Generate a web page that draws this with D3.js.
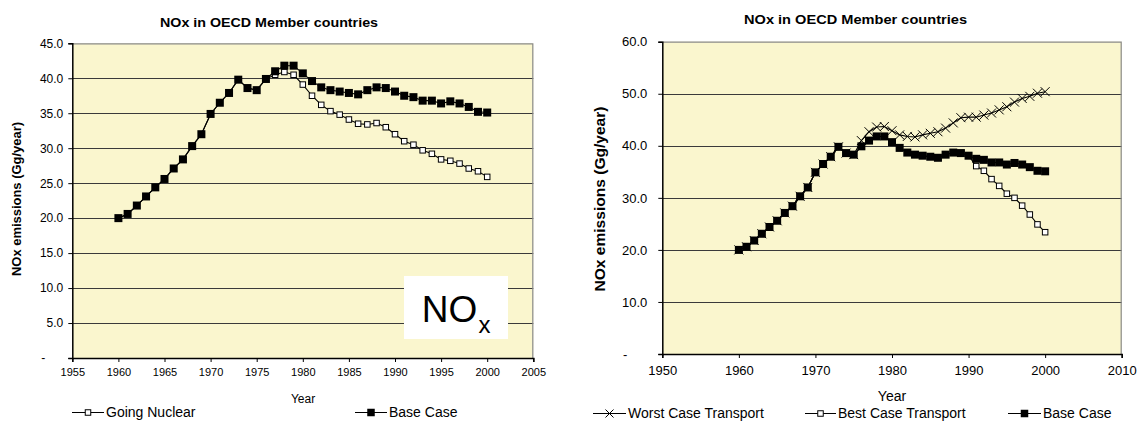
<!DOCTYPE html>
<html><head><meta charset="utf-8">
<script src="https://cdn.jsdelivr.net/npm/d3@7"></script>
<style>
html,body{margin:0;padding:0;background:#fff;}
svg text{font-family:"Liberation Sans",Arial,sans-serif;fill:#000;}
</style></head>
<body><svg id="c" width="1138" height="421"></svg>
<script>
// ---------- DATA ----------
const years = [1960,1961,1962,1963,1964,1965,1966,1967,1968,1969,1970,1971,1972,1973,1974,1975,1976,1977,1978,1979,1980,1981,1982,1983,1984,1985,1986,1987,1988,1989,1990,1991,1992,1993,1994,1995,1996,1997,1998,1999,2000];
const baseCase = [20.0,20.6,21.8,23.1,24.4,25.6,27.1,28.4,30.3,32.0,34.9,36.5,37.9,39.8,38.6,38.3,39.9,41.0,41.8,41.8,40.7,39.6,38.7,38.3,38.1,37.9,37.7,38.3,38.7,38.6,38.1,37.5,37.3,36.8,36.8,36.4,36.7,36.4,35.9,35.2,35.1];
const goingNuclear = [20.0,20.6,21.8,23.1,24.4,25.6,27.1,28.4,30.3,32.0,34.9,36.5,37.9,39.8,38.6,38.3,39.9,40.5,40.9,40.5,39.1,37.5,36.2,35.3,34.8,34.1,33.5,33.4,33.6,33.0,32.0,31.0,30.5,29.7,29.2,28.4,28.2,27.8,27.1,26.7,25.9];
const worstCaseTransport = [20.0,20.6,21.8,23.1,24.4,25.6,27.1,28.4,30.3,32.0,34.9,36.5,37.9,39.8,38.6,38.3,41.0,42.7,43.6,43.7,42.9,42.1,41.8,41.7,42.1,42.4,42.7,43.4,44.4,45.4,45.5,45.5,45.9,46.3,46.9,47.5,48.4,49.1,49.5,50.1,50.4];
const bestCaseTransport = [20.0,20.6,21.8,23.1,24.4,25.6,27.1,28.4,30.3,32.0,34.9,36.5,37.9,39.8,38.6,38.3,39.9,41.0,41.8,41.8,40.7,39.6,38.7,38.3,38.1,37.9,37.7,38.3,38.7,38.6,38.1,36.1,35.2,33.6,32.3,30.8,30.0,28.5,26.8,24.9,23.4];
const leftXTicks = [1955,1960,1965,1970,1975,1980,1985,1990,1995,2000,2005];
const leftYTicks = [0,5,10,15,20,25,30,35,40,45];
const rightXTicks = [1950,1960,1970,1980,1990,2000,2010];
const rightYTicks = [0,10,20,30,40,50,60];
const chartTitle = "NOx in OECD Member countries";
const yTitle = "NOx emissions (Gg/year)";
const xTitle = "Year";

// ---------- DRAW ----------
const svg = d3.select("#c");
const BG = "#FAF6CE";
const yFmt = v => v === 0 ? "-" : d3.format(".1f")(v);

function drawMarker(g, type, x, y, s) {
  if (type === "filled") {
    g.append("rect").attr("x", x - s/2).attr("y", y - s/2).attr("width", s).attr("height", s).attr("fill", "#000");
  } else if (type === "open") {
    g.append("rect").attr("x", x - s/2).attr("y", y - s/2).attr("width", s).attr("height", s)
      .attr("fill", "#fff").attr("stroke", "#000").attr("stroke-width", 1);
  } else if (type === "cross") {
    const h = s/2;
    g.append("path").attr("d", `M${x-h},${y-h}L${x+h},${y+h}M${x-h},${y+h}L${x+h},${y-h}`)
      .attr("stroke", "#000").attr("stroke-width", 1).attr("fill", "none");
  }
}

function chart(cfg) {
  const g = svg.append("g");
  const x = d3.scaleLinear().domain(cfg.xDomain).range([cfg.left, cfg.right]);
  const y = d3.scaleLinear().domain(cfg.yDomain).range([cfg.bottom, cfg.top]);
  g.append("rect").attr("x", cfg.left).attr("y", cfg.top).attr("width", cfg.right - cfg.left)
    .attr("height", cfg.bottom - cfg.top).attr("fill", BG);
  g.append("g").selectAll("line").data(cfg.yTicks.filter(d => d > cfg.yDomain[0] && d < cfg.yDomain[1]))
    .join("line").attr("x1", cfg.left).attr("x2", cfg.right)
    .attr("y1", d => Math.round(y(d)) + 0.5).attr("y2", d => Math.round(y(d)) + 0.5)
    .attr("stroke", "#3a3a3a").attr("stroke-width", 1);
  g.append("path").attr("d", `M${cfg.left},${cfg.top+0.5}H${cfg.right-0.5}V${cfg.bottom}`)
    .attr("stroke", "#8a8a8a").attr("fill", "none").attr("stroke-width", 1.2);
  const xAxis = d3.axisBottom(x).tickValues(cfg.xTicks).tickFormat(d3.format("d")).tickSize(4).tickPadding(cfg.xPad);
  const gx = g.append("g").attr("transform", `translate(0,${cfg.bottom})`).call(xAxis);
  gx.select(".domain").attr("stroke", "#000").attr("stroke-width", 1.5);
  gx.selectAll(".tick line").attr("stroke", "#000");
  gx.selectAll("text").attr("font-size", cfg.xTickFont).attr("font-family", "Liberation Sans, Arial, sans-serif");
  const yAxis = d3.axisLeft(y).tickValues(cfg.yTicks).tickFormat(yFmt).tickSize(4).tickPadding(cfg.yPad);
  const gy = g.append("g").attr("transform", `translate(${cfg.left},0)`).call(yAxis);
  gy.select(".domain").attr("stroke", "#000").attr("stroke-width", 1.5);
  gy.selectAll(".tick line").attr("stroke", "#000");
  gy.selectAll("text").attr("font-size", cfg.yTickFont).attr("font-family", "Liberation Sans, Arial, sans-serif")
    .attr("dx", d => d === 0 ? -cfg.dashShift : 0);
  g.append("text").attr("x", cfg.titleX).attr("y", cfg.titleY).attr("text-anchor", "middle")
    .attr("font-weight", "bold").attr("font-size", 13).attr("textLength", cfg.titleLen)
    .attr("lengthAdjust", "spacingAndGlyphs").text(chartTitle);
  g.append("text").attr("transform", `translate(${cfg.yTitleX},${cfg.yTitleY}) rotate(-90)`)
    .attr("text-anchor", "middle").attr("font-weight", "bold").attr("font-size", cfg.yTitleFont)
    .attr("textLength", cfg.yTitleLen).attr("lengthAdjust", "spacingAndGlyphs").text(yTitle);
  g.append("text").attr("x", cfg.xTitleX).attr("y", cfg.xTitleY).attr("text-anchor", "middle")
    .attr("font-size", cfg.xTitleFont).text(xTitle);
  const line = d3.line().x((d, i) => x(years[i])).y(d => y(d));
  cfg.series.forEach(s => {
    g.append("path").attr("d", line(s.values)).attr("fill", "none").attr("stroke", "#000").attr("stroke-width", 1.1);
    const mg = g.append("g");
    s.values.forEach((v, i) => drawMarker(mg, s.marker, x(years[i]), y(v), s.size));
  });
  cfg.legend.forEach(l => {
    g.append("line").attr("x1", l.x0).attr("x2", l.x1).attr("y1", l.y - 4.5).attr("y2", l.y - 4.5)
      .attr("stroke", "#000").attr("stroke-width", 1);
    const mg = g.append("g");
    drawMarker(mg, l.marker, (l.x0 + l.x1) / 2, l.y - 4.5, l.size);
    g.append("text").attr("x", l.x1 + 2).attr("y", l.y).attr("font-size", 14).text(l.name);
  });
  return {g, x, y};
}

// Left chart
const L = chart({
  left: 72.3, right: 533.3, top: 43.3, bottom: 358,
  xDomain: [1955, 2005], yDomain: [0, 45],
  xTicks: leftXTicks, yTicks: leftYTicks,
  xTickFont: 11, yTickFont: 12, xPad: 6, yPad: 5, dashShift: 18,
  titleX: 269, titleY: 26.5, titleLen: 218,
  yTitleX: 21, yTitleY: 199, yTitleFont: 13, yTitleLen: 154,
  xTitleX: 303, xTitleY: 403, xTitleFont: 12,
  series: [
    {values: goingNuclear, marker: "open", size: 5.5},
    {values: baseCase, marker: "filled", size: 8}
  ],
  legend: [
    {name: "Going Nuclear", x0: 72, x1: 104, y: 417, marker: "open", size: 5.5},
    {name: "Base Case", x0: 355, x1: 387, y: 417, marker: "filled", size: 7.5}
  ]
});
L.g.append("rect").attr("x", 404).attr("y", 276).attr("width", 104).attr("height", 63).attr("fill", "#fff");
L.g.append("text").attr("x", 421.7).attr("y", 321.7).attr("font-size", 37).text("NO");
L.g.append("text").attr("x", 478.5).attr("y", 333.3).attr("font-size", 24).text("x");

// Right chart
chart({
  left: 662.3, right: 1121.7, top: 41.7, bottom: 354,
  xDomain: [1950, 2010], yDomain: [0, 60],
  xTicks: rightXTicks, yTicks: rightYTicks,
  xTickFont: 13, yTickFont: 13, xPad: 8, yPad: 11, dashShift: 20,
  titleX: 855.5, titleY: 24, titleLen: 223,
  yTitleX: 605, yTitleY: 199, yTitleFont: 15, yTitleLen: 185,
  xTitleX: 892, xTitleY: 401, xTitleFont: 14,
  series: [
    {values: worstCaseTransport, marker: "cross", size: 9},
    {values: bestCaseTransport, marker: "open", size: 5.5},
    {values: baseCase, marker: "filled", size: 8}
  ],
  legend: [
    {name: "Worst Case Transport", x0: 593, x1: 626, y: 418, marker: "cross", size: 8},
    {name: "Best Case Transport", x0: 805, x1: 836, y: 418, marker: "open", size: 5.5},
    {name: "Base Case", x0: 1008, x1: 1041, y: 418, marker: "filled", size: 7.5}
  ]
});
</script></body></html>
